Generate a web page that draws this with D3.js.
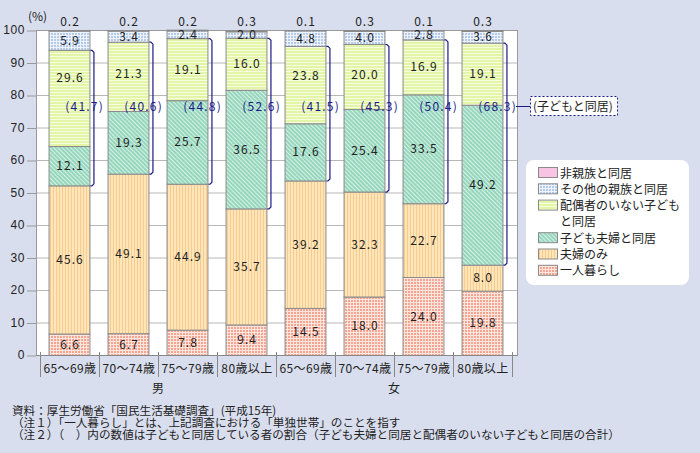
<!DOCTYPE html>
<html><head><meta charset="utf-8">
<script src="https://cdn.jsdelivr.net/npm/d3@7"></script>
<style>
html,body{margin:0;padding:0;background:#d9deee;}
svg{display:block;font-family:"Noto Sans CJK JP","Noto Sans",sans-serif;}
</style></head>
<body>
<svg id="c" width="700" height="453"></svg>
<script>
const categories = ["65〜69歳","70〜74歳","75〜79歳","80歳以上","65〜69歳","70〜74歳","75〜79歳","80歳以上"];
const groups = ["男","女"];
const alone = [6.6,6.7,7.8,9.4,14.5,18.0,24.0,19.8];
const coupleOnly = [45.6,49.1,44.9,35.7,39.2,32.3,22.7,8.0];
const withChildCouple = [12.1,19.3,25.7,36.5,17.6,25.4,33.5,49.2];
const withSingleChild = [29.6,21.3,19.1,16.0,23.8,20.0,16.9,19.1];
const otherRelatives = [5.9,3.4,2.4,2.0,4.8,4.0,2.8,3.6];
const nonRelatives = [0.2,0.2,0.2,0.3,0.1,0.3,0.1,0.3];
const withChildTotal = [41.7,40.6,44.8,52.6,41.5,45.3,50.4,68.3];
const seriesNames = ["一人暮らし","夫婦のみ","子ども夫婦と同居","配偶者のいない子どもと同居","その他の親族と同居","非親族と同居"];
const yTicks = [0,10,20,30,40,50,60,70,80,90,100];
const notes = [
  "資料：厚生労働省「国民生活基礎調査」(平成15年)",
  "（注１）「一人暮らし」とは、上記調査における「単独世帯」のことを指す",
  "（注２）（　）内の数値は子どもと同居している者の割合（子ども夫婦と同居と配偶者のいない子どもと同居の合計）"
];

const seriesData = [alone, coupleOnly, withChildCouple, withSingleChild, otherRelatives, nonRelatives];
const svg = d3.select("#c");
const defs = svg.append("defs");

function pat(id, w, h, base, draw, transform){
  const p = defs.append("pattern").attr("id", id).attr("patternUnits","userSpaceOnUse")
    .attr("width", w).attr("height", h);
  if (transform) p.attr("patternTransform", transform);
  p.append("rect").attr("width", w).attr("height", h).attr("fill", base);
  draw(p);
}
pat("pAlone",3,3,"#f6a492",p=>{
  p.append("rect").attr("x",2).attr("width",1).attr("height",3).attr("fill","#fde6de");
  p.append("rect").attr("y",2).attr("width",3).attr("height",1).attr("fill","#fde6de");
});
pat("pCouple",3,3,"#fee6b8",p=>{
  p.append("rect").attr("x",2).attr("width",1).attr("height",3).attr("fill","#f8ca90");
});
pat("pChildCouple",3,3,"#95d6bd",p=>{
  p.append("rect").attr("x",2).attr("width",1).attr("height",3).attr("fill","#d6f1e5");
},"rotate(-45)");
pat("pSingle",3,3,"#e3f5a6",p=>{
  p.append("rect").attr("y",2).attr("width",3).attr("height",1).attr("fill","#f8fde0");
});
pat("pOther",3,3,"#b3cbe9",p=>{
  p.append("rect").attr("x",2).attr("width",1).attr("height",3).attr("fill","#eef3fb");
  p.append("rect").attr("y",2).attr("width",3).attr("height",1).attr("fill","#eef3fb");
});
const fills = ["url(#pAlone)","url(#pCouple)","url(#pChildCouple)","url(#pSingle)","url(#pOther)","#f9c3e3"];

const plotL = 36, plotR = 518, plotT = 30, plotB = 355;
const x = d3.scaleBand().domain(d3.range(categories.length)).range([40,512]).paddingInner(0.29).paddingOuter(0.145);
const y = d3.scaleLinear().domain([0,100]).range([plotB, plotT]);
const bw = x.bandwidth();

svg.append("rect").attr("x",plotL).attr("y",plotT).attr("width",plotR-plotL).attr("height",plotB-plotT)
  .attr("fill","#fff");
svg.append("g").selectAll("line").data(yTicks).join("line")
  .attr("x1",plotL).attr("x2",plotR).attr("y1",d=>y(d)+0.5).attr("y2",d=>y(d)+0.5)
  .attr("stroke","#b8b8b8");
const yAxis = svg.append("g").attr("transform",`translate(${plotL},0)`)
  .call(d3.axisLeft(y).tickValues(yTicks).tickSize(9).tickPadding(2));
yAxis.select(".domain").remove();
yAxis.selectAll("line").attr("stroke","#999").attr("transform","translate(0,0.5)");
yAxis.selectAll("text").attr("font-size",12).attr("fill","#222").attr("font-family",null)
  .attr("letter-spacing",0.6);
svg.append("text").attr("x",28).attr("y",21).attr("font-size",12).attr("fill","#222").text("(%)");

svg.append("rect").attr("x",plotL+0.5).attr("y",plotT+0.5).attr("width",plotR-plotL-1).attr("height",plotB-plotT)
  .attr("fill","none").attr("stroke","#999");

const navy = "#1b1b86";
const labelY = 106;

const stacked = categories.map((c,i)=>{
  let acc = 0;
  return seriesData.map((s,k)=>{ const v=s[i]; const seg={k,i,v,y0:acc,y1:acc+v}; acc+=v; return seg; });
});
const gBars = svg.append("g");
stacked.forEach((segs,i)=>{
  gBars.selectAll(null).data(segs).join("rect")
    .attr("x",x(i)+0.5).attr("width",bw-1)
    .attr("y",d=>y(d.y1)+0.5).attr("height",d=>Math.max(0,y(d.y0)-y(d.y1)))
    .attr("fill",d=>fills[d.k]).attr("stroke","#8a8a8a").attr("stroke-width",1);
});
stacked.forEach((segs,i)=>{
  segs.forEach(d=>{
    const t = svg.append("text").attr("x",x(i)+bw/2+0.5).attr("text-anchor","middle")
      .attr("font-size",12).attr("fill","#222").attr("letter-spacing",1).text(d.v.toFixed(1));
    if (d.k===5) t.attr("y",26);
    else {
      let cy = (y(d.y0)+y(d.y1))/2;
      if (d.k===3) cy = Math.min(cy, (y(d.y1)+labelY)/2);
      t.attr("y",cy+4.5);
    }
  });
});

categories.forEach((c,i)=>{
  const right = x(i)+bw;
  const bx = right+3.5;
  const top = y(alone[i]+coupleOnly[i]+withChildCouple[i]+withSingleChild[i])+0.5;
  const bot = y(alone[i]+coupleOnly[i])+0.5;
  svg.append("path").attr("d",`M${right},${top}H${bx-2}L${bx},${top+2}V${bot-2}L${bx-2},${bot}H${right}`)
    .attr("fill","none").attr("stroke",navy).attr("stroke-width",1.2);
  svg.append("text").attr("x",bx+10).attr("y",labelY+4.5).attr("text-anchor","end")
    .attr("font-size",12).attr("fill",navy).attr("letter-spacing",1.2).text(`(${withChildTotal[i].toFixed(1)})`);
});
{
  const i = categories.length-1;
  const bx = x(i)+bw+3.5;
  svg.append("line").attr("x1",bx+9).attr("x2",530).attr("y1",labelY+0.5).attr("y2",labelY+0.5)
    .attr("stroke",navy).attr("stroke-width",1);
  svg.append("rect").attr("x",530.5).attr("y",96.5).attr("width",87).attr("height",19)
    .attr("fill","#fff").attr("stroke",navy).attr("stroke-dasharray","2,2");
  svg.append("text").attr("x",533).attr("y",labelY+4.5).attr("font-size",12).attr("fill","#222").text("(子どもと同居)");
}

svg.append("line").attr("x1",plotL).attr("x2",plotR).attr("y1",plotB+0.5).attr("y2",plotB+0.5).attr("stroke","#888");
const bounds = d3.range(categories.length+1).map(k=>40+k*x.step());
svg.append("g").selectAll("line").data(bounds).join("line")
  .attr("x1",d=>Math.round(d)+0.5).attr("x2",d=>Math.round(d)+0.5).attr("y1",352).attr("y2",377)
  .attr("stroke","#888");
svg.append("g").selectAll("text").data(categories).join("text")
  .attr("x",(d,i)=>x(i)+bw/2+0.5).attr("y",373).attr("text-anchor","middle")
  .attr("font-size",12).attr("fill","#222").attr("letter-spacing",0.4).text(d=>d);
groups.forEach((g,gi)=>{
  const cx = (bounds[gi*4]+bounds[gi*4+4])/2;
  svg.append("text").attr("x",cx).attr("y",393).attr("text-anchor","middle")
    .attr("font-size",12).attr("fill","#222").text(g);
});

svg.append("rect").attr("x",526).attr("y",160).attr("width",163).attr("height",125).attr("rx",8)
  .attr("fill","#fff");
const legendItems = [
  {k:5, lines:["非親族と同居"]},
  {k:4, lines:["その他の親族と同居"]},
  {k:3, lines:["配偶者のいない子ども","と同居"]},
  {k:2, lines:["子ども夫婦と同居"]},
  {k:1, lines:["夫婦のみ"]},
  {k:0, lines:["一人暮らし"]}
];
let ly = 173;
legendItems.forEach(it=>{
  svg.append("rect").attr("x",538.5).attr("y",ly-5.5).attr("width",19).attr("height",10)
    .attr("fill",fills[it.k]).attr("stroke","#8a8a8a");
  it.lines.forEach((t,j)=>{
    svg.append("text").attr("x",560).attr("y",ly+4.5+j*16.3).attr("font-size",12).attr("fill","#222").text(t);
  });
  ly += 16.3*it.lines.length;
});

notes.forEach((t,j)=>{
  svg.append("text").attr("x",12).attr("y",415+j*12).attr("font-size",11.6).attr("fill","#222").text(t);
});
</script>
</body></html>
